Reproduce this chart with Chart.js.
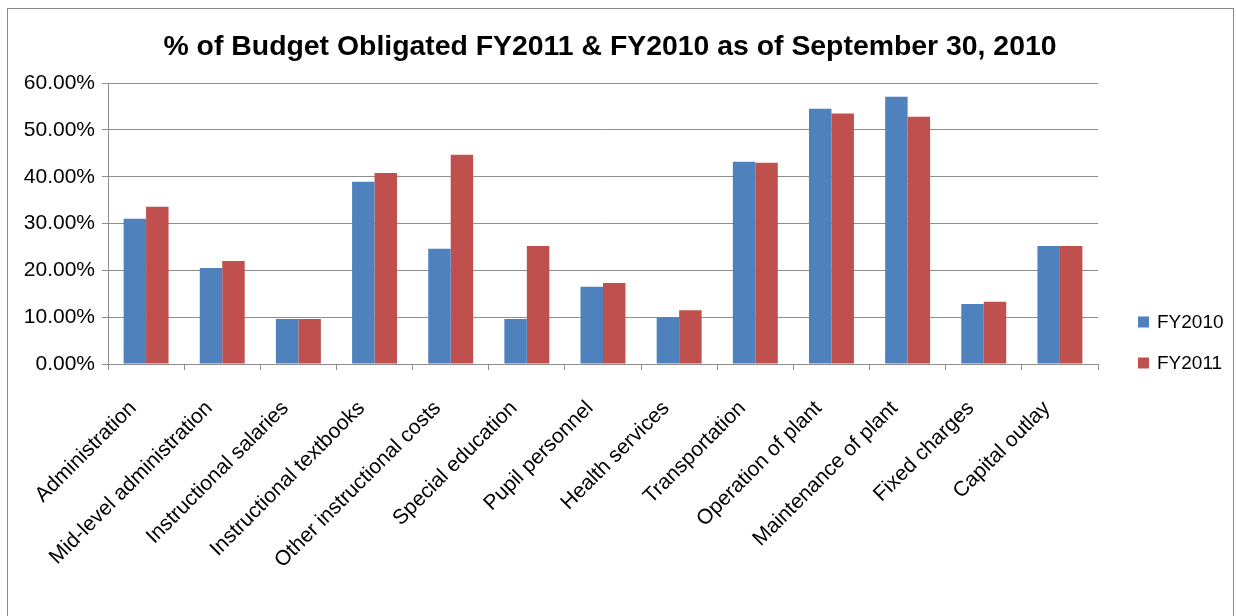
<!DOCTYPE html>
<html>
<head>
<meta charset="utf-8">
<script src="https://cdn.jsdelivr.net/npm/chart.js@4.4.1/dist/chart.umd.min.js"></script>
<style>
  html, body { margin: 0; padding: 0; background: #ffffff; }
  #wrap { width: 1236px; height: 616px; position: relative; }
  canvas { display: block; }
</style>
</head>
<body>
<div id="wrap"><canvas id="c" width="1236" height="616"></canvas></div>
<script>
const chartTitle = '% of Budget Obligated FY2011 & FY2010 as of September 30, 2010';
const categories = [
  'Administration',
  'Mid-level administration',
  'Instructional salaries',
  'Instructional textbooks',
  'Other instructional costs',
  'Special education',
  'Pupil personnel',
  'Health services',
  'Transportation',
  'Operation of plant',
  'Maintenance of plant',
  'Fixed charges',
  'Capital outlay'
];
const seriesNames = ['FY2010', 'FY2011'];
const fy2010 = [31.0, 20.5, 9.6, 38.9, 24.6, 9.6, 16.5, 10.0, 43.2, 54.5, 57.1, 12.8, 25.2];
const fy2011 = [33.6, 22.0, 9.6, 40.8, 44.7, 25.2, 17.3, 11.5, 43.0, 53.5, 52.8, 13.3, 25.2];
const yTicks = [0, 10, 20, 30, 40, 50, 60];

const FONT = '"Liberation Sans", Arial, sans-serif';
const GRID = '#8e8e8e';

const frame = {
  id: 'frame',
  beforeDraw(chart) {
    const ctx = chart.ctx;
    ctx.save();
    ctx.fillStyle = '#ffffff';
    ctx.fillRect(0, 0, chart.width, chart.height);
    ctx.strokeStyle = '#878787';
    ctx.lineWidth = 1;
    ctx.strokeRect(7.5, 8.5, 1226, 700);
    ctx.restore();
  }
};

// Legend drawn beside the plot, from the datasets' own labels/colours
const sideLegend = {
  id: 'sideLegend',
  afterDraw(chart, args, opts) {
    const ctx = chart.ctx;
    ctx.save();
    ctx.font = opts.fontSize + 'px ' + FONT;
    ctx.textBaseline = 'middle';
    ctx.textAlign = 'left';
    chart.data.datasets.forEach((ds, i) => {
      const cy = opts.top + i * opts.spacing;
      ctx.fillStyle = ds.backgroundColor;
      ctx.fillRect(opts.left, cy - opts.box / 2, opts.box, opts.box);
      ctx.fillStyle = '#000000';
      ctx.fillText(ds.label, opts.left + opts.box + opts.gap, cy + 1);
    });
    ctx.restore();
  }
};

new Chart(document.getElementById('c'), {
  type: 'bar',
  data: {
    labels: categories,
    datasets: [
      { label: seriesNames[0], data: fy2010, backgroundColor: '#4F81BD', borderWidth: 0 },
      { label: seriesNames[1], data: fy2011, backgroundColor: '#C0504D', borderWidth: 0 }
    ]
  },
  options: {
    responsive: false,
    animation: false,
    devicePixelRatio: 1,
    layout: { padding: { left: 0, right: 16, top: 0, bottom: 0 } },
    datasets: { bar: { categoryPercentage: 0.59, barPercentage: 1.0 } },
    plugins: {
      title: {
        display: true,
        text: chartTitle,
        color: '#000000',
        font: { family: FONT, size: 28.4, weight: 'bold' },
        padding: { top: 30, bottom: 19 }
      },
      legend: { display: false },
      tooltip: { enabled: false },
      sideLegend: { left: 1138, top: 322, spacing: 41, box: 11, gap: 8, fontSize: 19 }
    },
    scales: {
      x: {
        grid: { display: true, drawOnChartArea: false, drawTicks: true, tickLength: 6, color: GRID, offset: true },
        border: { display: true, color: GRID },
        ticks: {
          autoSkip: false,
          maxRotation: 45,
          minRotation: 45,
          padding: 26,
          labelOffset: -13,
          color: '#000000',
          font: { family: FONT, size: 21 }
        },
        afterFit(scale) { scale.height = 252; }
      },
      y: {
        min: 0,
        max: 60,
        afterBuildTicks(scale) { scale.ticks = yTicks.map(v => ({ value: v })); },
        grid: { color: GRID, tickLength: 6, drawTicks: true },
        border: { display: true, color: GRID },
        ticks: {
          padding: 7,
          color: '#000000',
          font: { family: FONT, size: 21 },
          callback: (v) => Number(v).toFixed(2) + '%'
        },
        afterFit(scale) { scale.width = 108; }
      },
      side: {
        type: 'linear',
        position: 'right',
        display: true,
        grid: { display: false },
        border: { display: false },
        ticks: { display: false },
        afterFit(scale) { scale.width = 122; }
      }
    }
  },
  plugins: [frame, sideLegend]
});
</script>
</body>
</html>
